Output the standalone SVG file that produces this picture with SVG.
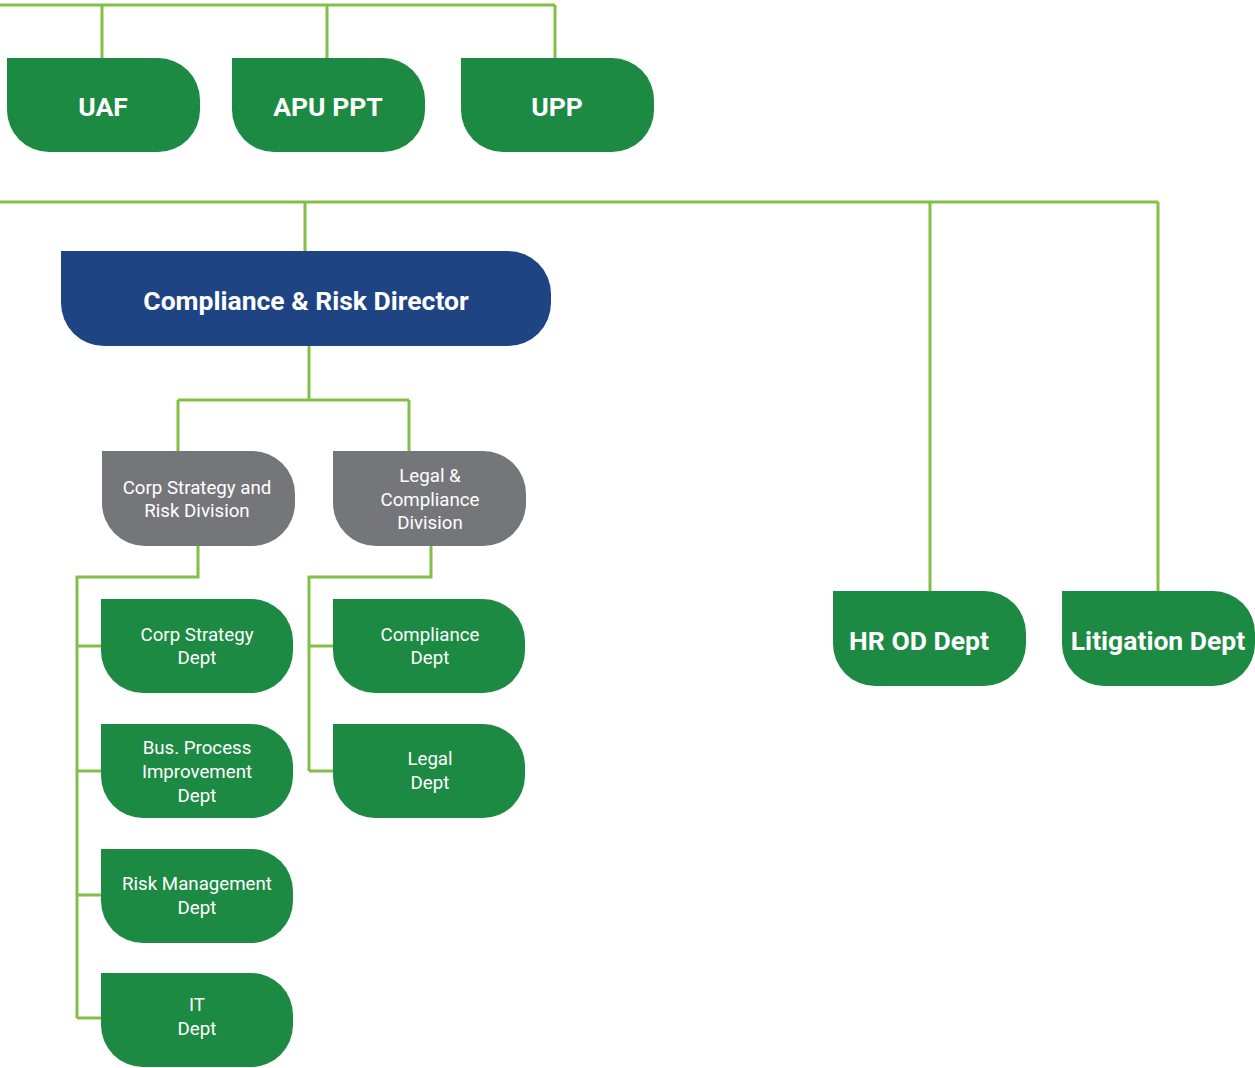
<svg xmlns="http://www.w3.org/2000/svg" width="1255" height="1068" viewBox="0 0 1255 1068">
  <style>
    .link { fill: none; stroke: #82c045; stroke-width: 3; }
    .green { fill: #1c8a43; }
    .blue { fill: #1f4484; }
    .grey { fill: #75767a; }
    text { font-family: Roboto, "Liberation Sans", sans-serif; fill: #ffffff; text-anchor: middle; dominant-baseline: central; }
    .big { font-size: 26.5px; font-weight: bold; }
    .small { font-size: 18.7px; }
  </style>
  <rect width="1255" height="1068" fill="#ffffff"/>

  <!-- connectors -->
  <g id="connectors">
    <path class="link" d="M0 5 H555 M102 5 V58 M327 5 V58 M555 5 V58"/>
    <path class="link" d="M0 202 H1158 M305 202 V251 M930 202 V591 M1158 202 V591"/>
    <path class="link" d="M309 346 V400 M178 400 H409 M178 400 V451 M409 400 V451"/>
    <path class="link" d="M198 546 V577 H77 V1018 M77 646 H102 M77 771 H102 M77 895 H102 M77 1018 H102"/>
    <path class="link" d="M431 546 V577 H309 V771 M309 646 H333 M309 771 H333"/>
  </g>

  <!-- top row -->
  <g id="uaf">
    <path class="green" d="M7 58 H158 A42 42 0 0 1 200 100 V110 A42 42 0 0 1 158 152 H49 A42 42 0 0 1 7 110 Z"/>
    <text class="big" x="103" y="106">UAF</text>
  </g>
  <g id="apu-ppt">
    <path class="green" d="M232 58 H383 A42 42 0 0 1 425 100 V110 A42 42 0 0 1 383 152 H274 A42 42 0 0 1 232 110 Z"/>
    <text class="big" x="328" y="106">APU PPT</text>
  </g>
  <g id="upp">
    <path class="green" d="M461 58 H612 A42 42 0 0 1 654 100 V110 A42 42 0 0 1 612 152 H503 A42 42 0 0 1 461 110 Z"/>
    <text class="big" x="557" y="106">UPP</text>
  </g>

  <!-- director -->
  <g id="director">
    <path class="blue" d="M61 251 H508 A43 43 0 0 1 551 294 V303 A43 43 0 0 1 508 346 H104 A43 43 0 0 1 61 303 Z"/>
    <text class="big" x="306" y="300">Compliance &amp; Risk Director</text>
  </g>

  <!-- divisions -->
  <g id="corp-strategy-risk-division">
    <path class="grey" d="M102 451 H252 A43 43 0 0 1 295 494 V503 A43 43 0 0 1 252 546 H145 A43 43 0 0 1 102 503 Z"/>
    <text class="small" x="197" y="488">Corp Strategy and</text>
    <text class="small" x="197" y="511">Risk Division</text>
  </g>
  <g id="legal-compliance-division">
    <path class="grey" d="M333 451 H483 A43 43 0 0 1 526 494 V503 A43 43 0 0 1 483 546 H376 A43 43 0 0 1 333 503 Z"/>
    <text class="small" x="430" y="476">Legal &amp;</text>
    <text class="small" x="430" y="500">Compliance</text>
    <text class="small" x="430" y="523">Division</text>
  </g>

  <!-- departments under Corp Strategy and Risk Division -->
  <g id="corp-strategy-dept">
    <path class="green" d="M101 599 H251 A42 42 0 0 1 293 641 V651 A42 42 0 0 1 251 693 H143 A42 42 0 0 1 101 651 Z"/>
    <text class="small" x="197" y="635">Corp Strategy</text>
    <text class="small" x="197" y="658">Dept</text>
  </g>
  <g id="bpi-dept">
    <path class="green" d="M101 724 H251 A42 42 0 0 1 293 766 V776 A42 42 0 0 1 251 818 H143 A42 42 0 0 1 101 776 Z"/>
    <text class="small" x="197" y="748">Bus. Process</text>
    <text class="small" x="197" y="772">Improvement</text>
    <text class="small" x="197" y="796">Dept</text>
  </g>
  <g id="risk-management-dept">
    <path class="green" d="M101 849 H251 A42 42 0 0 1 293 891 V901 A42 42 0 0 1 251 943 H143 A42 42 0 0 1 101 901 Z"/>
    <text class="small" x="197" y="884">Risk Management</text>
    <text class="small" x="197" y="908">Dept</text>
  </g>
  <g id="it-dept">
    <path class="green" d="M101 973 H251 A42 42 0 0 1 293 1015 V1025 A42 42 0 0 1 251 1067 H143 A42 42 0 0 1 101 1025 Z"/>
    <text class="small" x="197" y="1005">IT</text>
    <text class="small" x="197" y="1029">Dept</text>
  </g>

  <!-- departments under Legal & Compliance Division -->
  <g id="compliance-dept">
    <path class="green" d="M333 599 H483 A42 42 0 0 1 525 641 V651 A42 42 0 0 1 483 693 H375 A42 42 0 0 1 333 651 Z"/>
    <text class="small" x="430" y="635">Compliance</text>
    <text class="small" x="430" y="658">Dept</text>
  </g>
  <g id="legal-dept">
    <path class="green" d="M333 724 H483 A42 42 0 0 1 525 766 V776 A42 42 0 0 1 483 818 H375 A42 42 0 0 1 333 776 Z"/>
    <text class="small" x="430" y="759">Legal</text>
    <text class="small" x="430" y="783">Dept</text>
  </g>

  <!-- right side departments -->
  <g id="hr-od-dept">
    <path class="green" d="M833 591 H984 A42 42 0 0 1 1026 633 V644 A42 42 0 0 1 984 686 H875 A42 42 0 0 1 833 644 Z"/>
    <text class="big" x="919" y="640">HR OD Dept</text>
  </g>
  <g id="litigation-dept">
    <path class="green" d="M1062 591 H1213 A42 42 0 0 1 1255 633 V644 A42 42 0 0 1 1213 686 H1104 A42 42 0 0 1 1062 644 Z"/>
    <text class="big" x="1158" y="640">Litigation Dept</text>
  </g>
</svg>
